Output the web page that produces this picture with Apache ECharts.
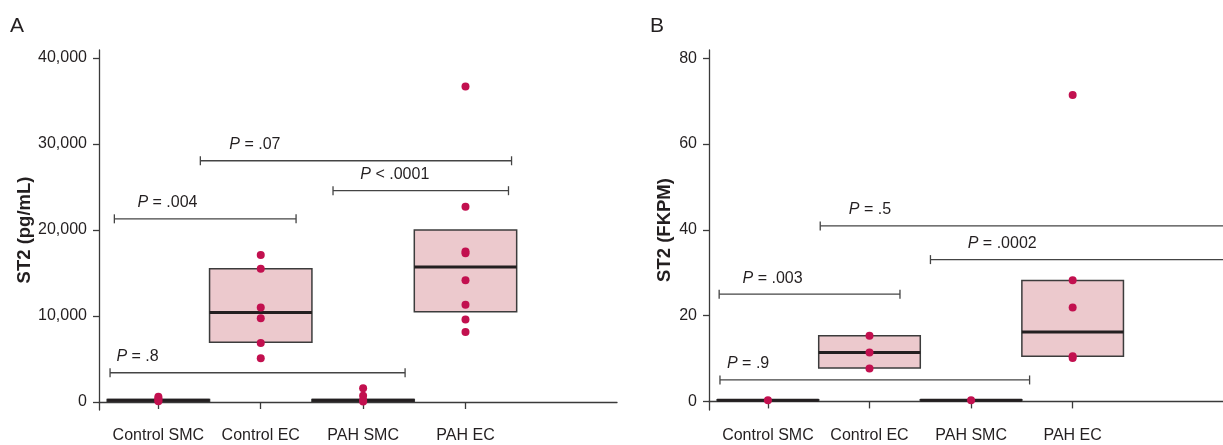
<!DOCTYPE html>
<html>
<head>
<meta charset="utf-8">
<script src="https://cdn.jsdelivr.net/npm/echarts@6/dist/echarts.min.js"></script>
<style>
    html, body { margin: 0; padding: 0; background: #fff; }
    #main { width: 1223px; height: 445px; }
</style>
</head>
<body>
<div id="main"></div>
<script>
//分组
var categories = ["Control SMC", "Control EC", "PAH SMC", "PAH EC"];

//A: ST2 (pg/mL)
var aTicks = [0, 10000, 20000, 30000, 40000];
var aBoxes = [[100, 200, 300], [6940, 10400, 15500], [100, 200, 300], [10500, 15700, 20000]]; //q1, median, q3
var aPoints = [
    [100, 250, 400, 600],
    [5100, 6860, 9730, 11000, 15500, 17100],
    [50, 200, 730, 1600],
    [8140, 9600, 11300, 14150, 17300, 17500, 22700, 36700]
];
//x1, x2, y, label x
var aBrackets = [[0.57, 2.345, 21300, 0.795], [1.41, 4.45, 28050, 1.693], [2.706, 4.42, 24570, 2.973], [0.528, 3.41, 3400, 0.59]];
var aBracketText = [".004", ".07", ".0001", ".8"];
var aBracketSign = ["=", "=", "<", "="];

//B: ST2 (FKPM)
var bTicks = [0, 20, 40, 60, 80];
var bBoxes = [[0.2, 0.3, 0.4], [7.8, 11.4, 15.3], [0.2, 0.3, 0.4], [10.5, 16.2, 28.2]];
var bPoints = [
    [0.3],
    [7.7, 11.4, 15.3],
    [0.3],
    [10.1, 10.5, 21.9, 28.25, 71.4]
];
var bBrackets = [[0.52, 2.30, 25.0, 0.751], [1.515, 5.6, 40.9, 1.796], [2.60, 5.6, 33.05, 2.967], [0.528, 3.576, 5.0, 0.597]];
var bBracketText = [".003", ".5", ".0002", ".9"];
var bBracketSign = ["=", "=", "=", "="];

var fontFamily = "'Liberation Sans', Arial, sans-serif";
var textColor = "#231f20";
var axisColor = "#3a3a3a";

function renderBox(params, api) {
    var x = api.value(0);
    var p1 = api.coord([x - 0.5, api.value(3)]);
    var p2 = api.coord([x + 0.5, api.value(1)]);
    var m1 = api.coord([x - 0.5, api.value(2)]);
    var m2 = api.coord([x + 0.5, api.value(2)]);
    return {
        type: "group",
        children: [
            {
                type: "rect",
                shape: { x: p1[0], y: p1[1], width: p2[0] - p1[0], height: p2[1] - p1[1] },
                style: { fill: "#ecc9cd", stroke: "#3c3c3c", lineWidth: 1.5 }
            },
            {
                type: "line",
                shape: { x1: m1[0], y1: m1[1], x2: m2[0], y2: m2[1] },
                style: { stroke: "#231f20", lineWidth: 3 }
            }
        ]
    };
}

function makeBracketRender(texts, signs) {
    return function (params, api) {
        var a = api.coord([api.value(0), api.value(2)]);
        var b = api.coord([api.value(1), api.value(2)]);
        var t = api.coord([api.value(3), api.value(2)]);
        var i = params.dataIndex;
        var lineStyle = { stroke: "#444", lineWidth: 1.3 };
        return {
            type: "group",
            children: [
                { type: "line", shape: { x1: a[0], y1: a[1], x2: b[0], y2: b[1] }, style: lineStyle },
                { type: "line", shape: { x1: a[0], y1: a[1] - 4.5, x2: a[0], y2: a[1] + 4.5 }, style: lineStyle },
                { type: "line", shape: { x1: b[0], y1: b[1] - 4.5, x2: b[0], y2: b[1] + 4.5 }, style: lineStyle },
                {
                    type: "text",
                    style: {
                        x: t[0], y: t[1] - 16,
                        text: "{i|P}{n| " + signs[i] + " " + texts[i] + "}",
                        verticalAlign: "middle",
                        align: "left",
                        rich: {
                            i: { fontStyle: "italic", fontSize: 16, fontFamily: fontFamily, fill: textColor },
                            n: { fontSize: 16, fontFamily: fontFamily, fill: textColor }
                        }
                    }
                }
            ]
        };
    };
}

function boxData(boxes) {
    var arr = [];
    for (var i = 0; i < boxes.length; i++) {
        arr.push([i + 1, boxes[i][0], boxes[i][1], boxes[i][2]]);
    }
    return arr;
}

function pointData(points) {
    var arr = [];
    for (var i = 0; i < points.length; i++) {
        for (var j = 0; j < points[i].length; j++) {
            arr.push([i + 1, points[i][j]]);
        }
    }
    return arr;
}

function xAxisOpt(idx) {
    return {
        type: "value",
        gridIndex: idx,
        min: 0.42,
        max: 5.48,
        splitLine: { show: false },
        axisLine: { lineStyle: { color: axisColor, width: 1.3 } },
        axisTick: { length: 7, customValues: [1, 2, 3, 4], lineStyle: { color: axisColor, width: 1.3 } },
        axisLabel: {
            customValues: [1, 2, 3, 4],
            margin: 18,
            fontSize: 16,
            fontFamily: fontFamily,
            color: textColor,
            formatter: function (v) { return categories[Math.round(v) - 1] || ""; }
        }
    };
}

function yAxisOpt(idx, min, max, ticks, name, gap, fmt) {
    return {
        type: "value",
        gridIndex: idx,
        min: min,
        max: max,
        name: name,
        nameLocation: "middle",
        nameGap: gap,
        nameTextStyle: { fontWeight: "bold", fontSize: 18.5, fontFamily: fontFamily, color: textColor },
        splitLine: { show: false },
        axisLine: { show: true, lineStyle: { color: axisColor, width: 1.3 } },
        axisTick: { show: true, length: 6, customValues: ticks, lineStyle: { color: axisColor, width: 1.3 } },
        axisLabel: {
            customValues: ticks,
            margin: 12,
            fontSize: 16,
            fontFamily: fontFamily,
            color: textColor,
            formatter: fmt
        }
    };
}

var myChart = echarts.init(document.getElementById("main"), null, { renderer: "canvas" });

var option = {
    animation: false,
    backgroundColor: "#fff",
    graphic: [
        { type: "text", left: 10, top: 16, style: { text: "A", fontSize: 21, fontFamily: fontFamily, fill: textColor } },
        { type: "text", left: 650, top: 16, style: { text: "B", fontSize: 21, fontFamily: fontFamily, fill: textColor } }
    ],
    grid: [
        { left: 99, top: 50, width: 518, height: 360 },
        { left: 709, top: 50, width: 518, height: 360 }
    ],
    xAxis: [xAxisOpt(0), xAxisOpt(1)],
    yAxis: [
        yAxisOpt(0, -930, 40930, aTicks, "ST2 (pg/mL)", 62, function (v) { return echarts.format.addCommas(v); }),
        yAxisOpt(1, -2, 81.9, bTicks, "ST2 (FKPM)", 35, function (v) { return v; })
    ],
    series: [
        { type: "custom", xAxisIndex: 0, yAxisIndex: 0, renderItem: renderBox, data: boxData(aBoxes), z: 2 },
        { type: "scatter", xAxisIndex: 0, yAxisIndex: 0, symbolSize: 8, itemStyle: { color: "#c2104f", opacity: 1 }, data: pointData(aPoints), z: 3 },
        { type: "custom", xAxisIndex: 0, yAxisIndex: 0, renderItem: makeBracketRender(aBracketText, aBracketSign), data: aBrackets, clip: false, z: 4 },

        { type: "custom", xAxisIndex: 1, yAxisIndex: 1, renderItem: renderBox, data: boxData(bBoxes), z: 2 },
        { type: "scatter", xAxisIndex: 1, yAxisIndex: 1, symbolSize: 8, itemStyle: { color: "#c2104f", opacity: 1 }, data: pointData(bPoints), z: 3 },
        { type: "custom", xAxisIndex: 1, yAxisIndex: 1, renderItem: makeBracketRender(bBracketText, bBracketSign), data: bBrackets, clip: false, z: 4 }
    ]
};

myChart.setOption(option);
</script>
</body>
</html>
